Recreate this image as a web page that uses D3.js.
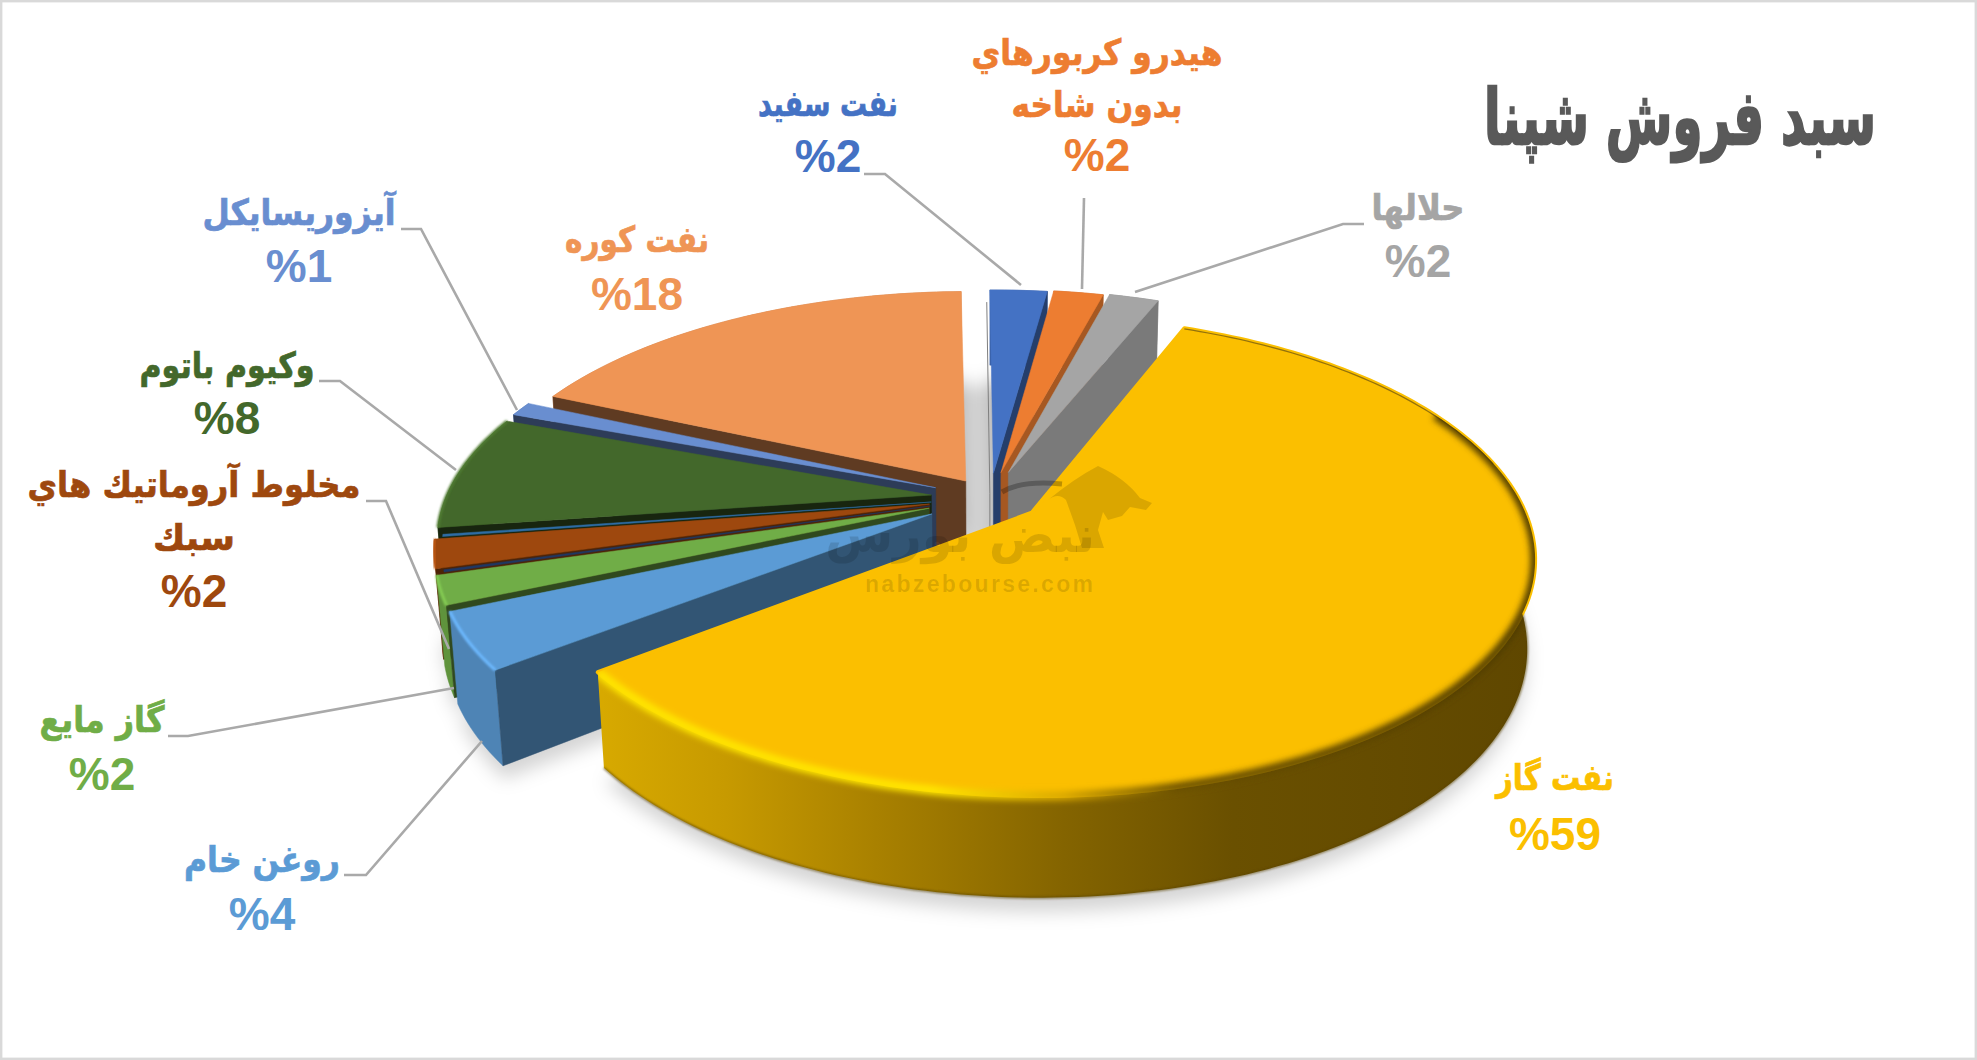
<!DOCTYPE html>
<html><head><meta charset="utf-8">
<script src="https://cdn.jsdelivr.net/npm/d3@7/dist/d3.min.js"></script>
<style>html,body{margin:0;background:#fff;overflow:hidden}svg{display:block}</style>
</head><body><svg id="c" width="1977" height="1060"></svg>
<script>
const title = 'سبد فروش شپنا';
const categories = ['', 'نفت سفيد', 'هيدرو كربورهاي بدون شاخه', 'حلالها', 'نفت گاز', 'روغن خام', 'گاز مايع', '', 'مخلوط آروماتيك هاي سبك', '', 'وكيوم باتوم', 'آيزوريسايكل', 'نفت كوره'];
const values = [0.2, 2.3, 2, 2, 59, 4, 2, 0.15, 2, 0.15, 8, 1, 18.2];
const percentLabels = {1: 2, 2: 2, 3: 2, 4: 59, 5: 4, 6: 2, 8: 2, 10: 8, 11: 1, 12: 18};
const colors = ['#ffffff', '#4472c4', '#ed7d31', '#a5a5a5', '#fbbf00', '#5b9bd5', '#70ad47', '#1f3864', '#9e480e', '#2e6da4', '#43682b', '#698ed0', '#ef9555'];

const W = 1977, H = 1060;
const svg = d3.select('#c');
const defs = svg.append('defs');

// projection of the tilted pie plane
const cx = 990, cy = 498, S = 493, K = 0.465, P = 0.18, DEPTH = 88;
function proj(u, v, z = 0) {
  const w = 1 - P * v + 0.014 * z;
  return [cx + S * u / w, cy + (S * K * v + DEPTH * z) / w];
}
const explode = [0.02, 0.11, 0.115, 0.12, 0.105, 0.135, 0.13, 0.125, 0.125, 0.12, 0.12, 0.12, 0.09];
const radius = [0.99, 0.975, 0.975, 0.975, 0.99, 0.97, 0.975, 0.965, 0.98, 0.97, 0.985, 0.985, 1.0];
const sideDark = [2, 1.7, 1, 0.85, 1.7, 1.7, 2.4, 1.5, 2, 1.5, 2.9, 2.4, 2.6];
const slivers = [0, 7, 9];

const START = -0.02;
const arcs = d3.pie().sort(null).startAngle(START).endAngle(2 * Math.PI + START)(values);
const slices = arcs.map((a, i) => {
  const mid = (a.startAngle + a.endAngle) / 2;
  return {i, a0: a.startAngle, a1: a.endAngle, mid, e: explode[i], r: radius[i], color: colors[i],
    ax: explode[i] * Math.sin(mid), ay: -explode[i] * Math.cos(mid)};
});
const pt = (s, t, z = 0, r = s.r) => proj(s.ax + r * Math.sin(t), s.ay - r * Math.cos(t), z);
const apex = (s, z = 0) => proj(s.ax, s.ay, z);
const anglesOf = (a0, a1) => { const n = Math.max(2, Math.ceil((a1 - a0) / 0.02)); return d3.range(n + 1).map(k => a0 + (a1 - a0) * k / n); };
const angles = s => anglesOf(s.a0, s.a1);
const line = d3.line();
const closed = pts => line(pts) + 'Z';
const rimTop = s => angles(s).map(t => pt(s, t));
const rimBot = (s, z = 1) => angles(s).map(t => pt(s, t, z));
const topPath = s => closed([apex(s), ...rimTop(s)]);
const wallPath = s => closed([...rimTop(s), ...rimBot(s).reverse()]);
const radialPath = (s, t) => closed([apex(s), pt(s, t), pt(s, t, 1), apex(s, 1)]);

// filters
const blur = (id, d) => defs.append('filter').attr('id', id).attr('x', '-20%').attr('y', '-20%').attr('width', '140%').attr('height', '140%')
  .append('feGaussianBlur').attr('stdDeviation', d);
blur('shadow', 9); blur('hl', 3); blur('hl2', 1.2);

const gasWall = defs.append('linearGradient').attr('id', 'gasWall').attr('gradientUnits', 'userSpaceOnUse')
  .attr('x1', 594).attr('x2', 1533).attr('y1', 0).attr('y2', 0);
[[0, '#d8aa00'], [0.14, '#c79a00'], [0.3, '#a98100'], [0.5, '#846400'], [0.68, '#6a5000'], [1, '#5f4700']].forEach(d => gasWall.append('stop').attr('offset', d[0]).attr('stop-color', d[1]));
const gasHl = defs.append('linearGradient').attr('id', 'gasHl').attr('gradientUnits', 'userSpaceOnUse')
  .attr('x1', 594).attr('x2', 1533).attr('y1', 0).attr('y2', 0);
[[0, '#ffe600'], [0.36, '#ffe600'], [0.5, '#d9a800'], [0.62, '#6a5000'], [1, '#4e3a00']].forEach(d => gasHl.append('stop').attr('offset', d[0]).attr('stop-color', d[1]));

// frame
svg.append('rect').attr('x', 1.2).attr('y', 1.2).attr('width', W - 2.4).attr('height', H - 2.4).attr('fill', '#fff').attr('stroke', '#d9d9d9').attr('stroke-width', 2.4);

// soft shadow on the ground
const gShadow = svg.append('g').attr('filter', 'url(#shadow)').attr('fill', '#000').attr('fill-opacity', 0.17);
slices.filter(s => s.i !== 0).forEach(s => gShadow.append('path').attr('d', closed([apex(s, 1.14), ...rimBot(s, 1.14)])));
{ const back = {ax: 0, ay: -0.02, r: 0.95, a0: -0.3, a1: 0.34};
  gShadow.append('path').attr('d', closed([apex(back, 1), ...rimBot(back, 1)])); }

const gPie = svg.append('g');
function drawSlice(s, radialAt) {
  const c = d3.color(s.color);
  if (!slivers.includes(s.i)) gPie.append('path').attr('d', wallPath(s)).attr('fill', c.darker(0.45)).attr('stroke', c.darker(0.45)).attr('stroke-width', 0.5);
  if (radialAt != null && !slivers.includes(s.i)) gPie.append('path').attr('d', radialPath(s, radialAt)).attr('fill', c.darker(sideDark[s.i])).attr('stroke', c.darker(sideDark[s.i])).attr('stroke-width', 0.5);
  gPie.append('path').attr('d', topPath(s)).attr('fill', s.color).attr('stroke', s.color).attr('stroke-width', 0.5).attr('stroke-linejoin', 'round');
}
// back to front
[12, 11, 10, 9, 8, 7, 6, 5].forEach(i => drawSlice(slices[i], slices[i].a0));
// white sliver with its hairline
gPie.append('path').attr('d', line([pt(slices[0], slices[0].a1), apex(slices[0]), apex(slices[0], 1)])).attr('fill', 'none').attr('stroke', '#7f7f7f').attr('stroke-width', 1);
[1, 2, 3].forEach(i => drawSlice(slices[i], slices[i].a1));

// rim highlights on the left group
[10, 8, 6, 5].forEach(i => {
  const s = slices[i];
  gPie.append('path').attr('d', line(rimTop(s))).attr('fill', 'none').attr('stroke', d3.color(s.color).brighter(0.5)).attr('stroke-width', 3).attr('filter', 'url(#hl2)');
});

// the large exploded slice
const gas = slices[4];
gPie.append('path').attr('d', wallPath(gas)).attr('fill', 'url(#gasWall)');
gPie.append('path').attr('d', line(rimBot(gas))).attr('fill', 'none').attr('stroke', '#5a4300').attr('stroke-width', 2).attr('stroke-opacity', 0.7).attr('filter', 'url(#hl2)');
gPie.append('path').attr('d', topPath(gas)).attr('fill', gas.color).attr('stroke', gas.color).attr('stroke-width', 4).attr('stroke-linejoin', 'round');
const clip = defs.append('clipPath').attr('id', 'gasClip');
clip.append('path').attr('d', topPath(gas));
clip.append('path').attr('d', wallPath(gas));
const hlG = gPie.append('g').attr('clip-path', 'url(#gasClip)');
// thin dark edge on the back of the rim, broad glow on the front
hlG.append('path').attr('d', line(anglesOf(gas.a0, 1.35).map(t => pt(gas, t)))).attr('fill', 'none').attr('stroke', '#94720b').attr('stroke-width', 2.5);
hlG.append('path').attr('d', line(anglesOf(1.1, gas.a1).map(t => pt(gas, t)))).attr('fill', 'none').attr('stroke', 'url(#gasHl)').attr('stroke-width', 9).attr('filter', 'url(#hl)');

// watermark
const wm = svg.append('g').attr('fill', '#000').attr('fill-opacity', 0.13);
wm.append('path').attr('d', 'M1048 500 Q1075 478 1098 466 Q1125 478 1140 498 L1152 503 L1146 510 L1130 507 L1122 516 L1108 520 L1103 512 L1098 530 L1104 548 L1082 548 L1075 525 L1066 500 Q1058 492 1048 500Z');
wm.append('path').attr('d', 'M1002 492 Q1022 480 1062 484').attr('fill', 'none').attr('stroke', '#000').attr('stroke-opacity', 0.25).attr('stroke-width', 5);
wm.append('text').attr('x', 960).attr('y', 552).attr('text-anchor', 'middle').attr('font-family', 'DejaVu Sans').attr('font-weight', 700).attr('font-size', 50).attr('textLength', 270).attr('lengthAdjust', 'spacingAndGlyphs').attr('direction', 'rtl').text('نبض بورس');
wm.append('text').attr('x', 979).attr('y', 592).attr('text-anchor', 'middle').attr('font-family', 'Liberation Sans').attr('font-weight', 700).attr('font-size', 23).attr('textLength', 228).attr('lengthAdjust', 'spacing').text('nabzebourse.com');

// labels: index, centre x, first baseline, line height, line widths, leader polyline
const labelLayout = [
  {i: 1, x: 828, y: 116, w: [140], pctY: 172, lead: [[864, 174], [885, 174], [1021, 285]]},
  {i: 2, x: 1097, y: 65, w: [251, 171], split: ['هيدرو كربورهاي', 'بدون شاخه'], dy: 52, pctY: 171, lead: [[1084, 198], [1082, 289]]},
  {i: 3, x: 1418, y: 220, w: [93], pctY: 277, lead: [[1364, 224], [1343, 224], [1135, 292]]},
  {i: 12, x: 637, y: 252, w: [144], pctY: 310, lead: null},
  {i: 11, x: 299, y: 225, w: [193], pctY: 282, lead: [[401, 229], [421, 229], [517, 410]]},
  {i: 10, x: 227, y: 378, w: [175], pctY: 434, lead: [[319, 381], [340, 381], [456, 470]]},
  {i: 8, x: 194, y: 497, w: [333, 82], split: ['مخلوط آروماتيك هاي', 'سبك'], dy: 53, pctY: 607, lead: [[366, 501], [386, 501], [449, 649]]},
  {i: 6, x: 102, y: 732, w: [125], pctY: 790, lead: [[168, 736], [188, 736], [454, 688]]},
  {i: 5, x: 262, y: 872, w: [156], pctY: 930, lead: [[344, 875], [366, 875], [482, 741]]},
  {i: 4, x: 1555, y: 790, w: [118], pctY: 850, lead: null}
];
const gLead = svg.append('g').attr('fill', 'none').attr('stroke', '#a9a9a9').attr('stroke-width', 2.6);
const gLab = svg.append('g').attr('text-anchor', 'middle').attr('font-weight', 700);
labelLayout.forEach(l => {
  const lines = l.split || [categories[l.i]];
  lines.forEach((t, k) => gLab.append('text').attr('x', l.x).attr('y', l.y + k * (l.dy || 0))
    .attr('font-family', 'DejaVu Sans').attr('font-size', 36).attr('fill', colors[l.i])
    .attr('stroke', colors[l.i]).attr('stroke-width', 0.7)
    .attr('textLength', l.w[k]).attr('lengthAdjust', 'spacingAndGlyphs').attr('direction', 'rtl').text(t));
  gLab.append('text').attr('x', l.x).attr('y', l.pctY).attr('font-family', 'Liberation Sans').attr('font-size', 46)
    .attr('fill', colors[l.i]).attr('direction', 'ltr').text('%' + percentLabels[l.i]);
  if (l.lead) gLead.append('path').attr('d', line(l.lead));
});
// title squeezed to the reference width with a transform
const tt = svg.append('text').attr('text-anchor', 'middle').attr('font-family', 'DejaVu Sans').attr('font-weight', 700)
  .attr('font-size', 76).attr('fill', '#595959').attr('stroke', '#595959').attr('stroke-width', 2.4).attr('direction', 'rtl').text(title);
const tLen = tt.node().getComputedTextLength();
tt.attr('transform', `translate(1680,144) scale(${392 / tLen},1)`);
</script></body></html>
